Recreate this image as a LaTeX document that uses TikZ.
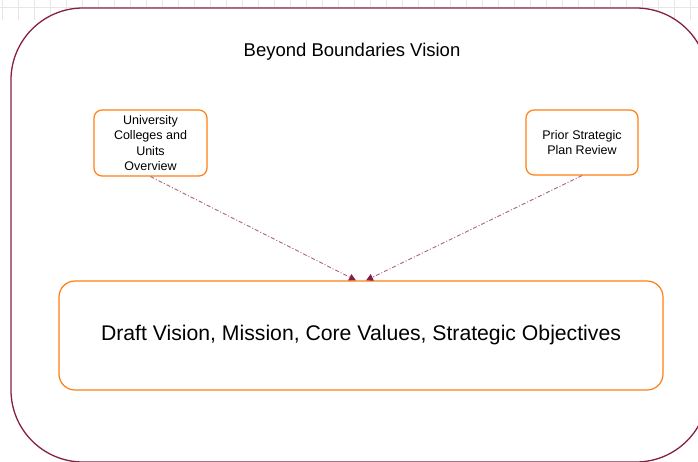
\documentclass[tikz,border=0pt]{standalone}
\usepackage{fontspec}
\setmainfont{Liberation Sans}
\usetikzlibrary{arrows.meta}
\definecolor{vtmaroon}{HTML}{861F41}
\definecolor{vtorange}{HTML}{FF7F11}
\definecolor{gridgray}{HTML}{E6E6E6}
\begin{document}
\begin{tikzpicture}[x=1pt,y=-1pt,
  container/.style={draw=vtmaroon, line width=1.3pt, rounded corners=72pt, fill=white, inner sep=0pt},
  smallbox/.style={draw=vtorange, line width=1.2pt, rounded corners=8pt, fill=white, align=center, inner sep=0pt, font=\fontsize{12.5}{15.5}\selectfont},
  bigbox/.style={draw=vtorange, line width=1.2pt, rounded corners=16pt, fill=white, align=center, inner sep=0pt, font=\fontsize{21.2}{25}\selectfont},
  flow/.style={draw=vtmaroon!70, line width=0.9pt, dash pattern=on 4pt off 2pt on 1pt off 2pt, -{Triangle[length=7pt,width=7pt,fill=vtmaroon,color=vtmaroon]}}]
\useasboundingbox (0,0) rectangle (698,461);
\fill[white] (-5,-5) rectangle (703,466);
\begin{scope}
\clip (0,0) rectangle (698,461);
% background grid strip (top only)
\foreach \k in {0,...,43} {
  \draw[gridgray, line width=1pt] ({2.7+16*\k},0) -- ({2.7+16*\k},20);
}
\draw[gridgray, line width=1pt] (0,7.5) -- (698,7.5);
% container
\node[container, minimum width=697pt, minimum height=454pt] (outer) at (359.5,235) {};
\end{scope}
\node[font=\fontsize{18.5}{22}\selectfont] (title) at (352,52) {Beyond Boundaries Vision};
% boxes
\node[smallbox, minimum width=113pt, minimum height=66pt] (uco) at (150.5,143) {University\\Colleges and\\Units\\Overview};
\node[smallbox, minimum width=112pt, minimum height=65pt] (psp) at (582,142.5) {Prior Strategic\\Plan Review};
\node[bigbox, minimum width=604pt, minimum height=109pt] (draft) at (361,335.5) {\raisebox{-2pt}{Draft Vision, Mission, Core Values, Strategic Objectives}};
% connectors
\draw[flow] (uco.south) -- ([xshift=-5pt]draft.north);
\draw[flow] (psp.south) -- ([xshift=5pt]draft.north);
\end{tikzpicture}
\end{document}
